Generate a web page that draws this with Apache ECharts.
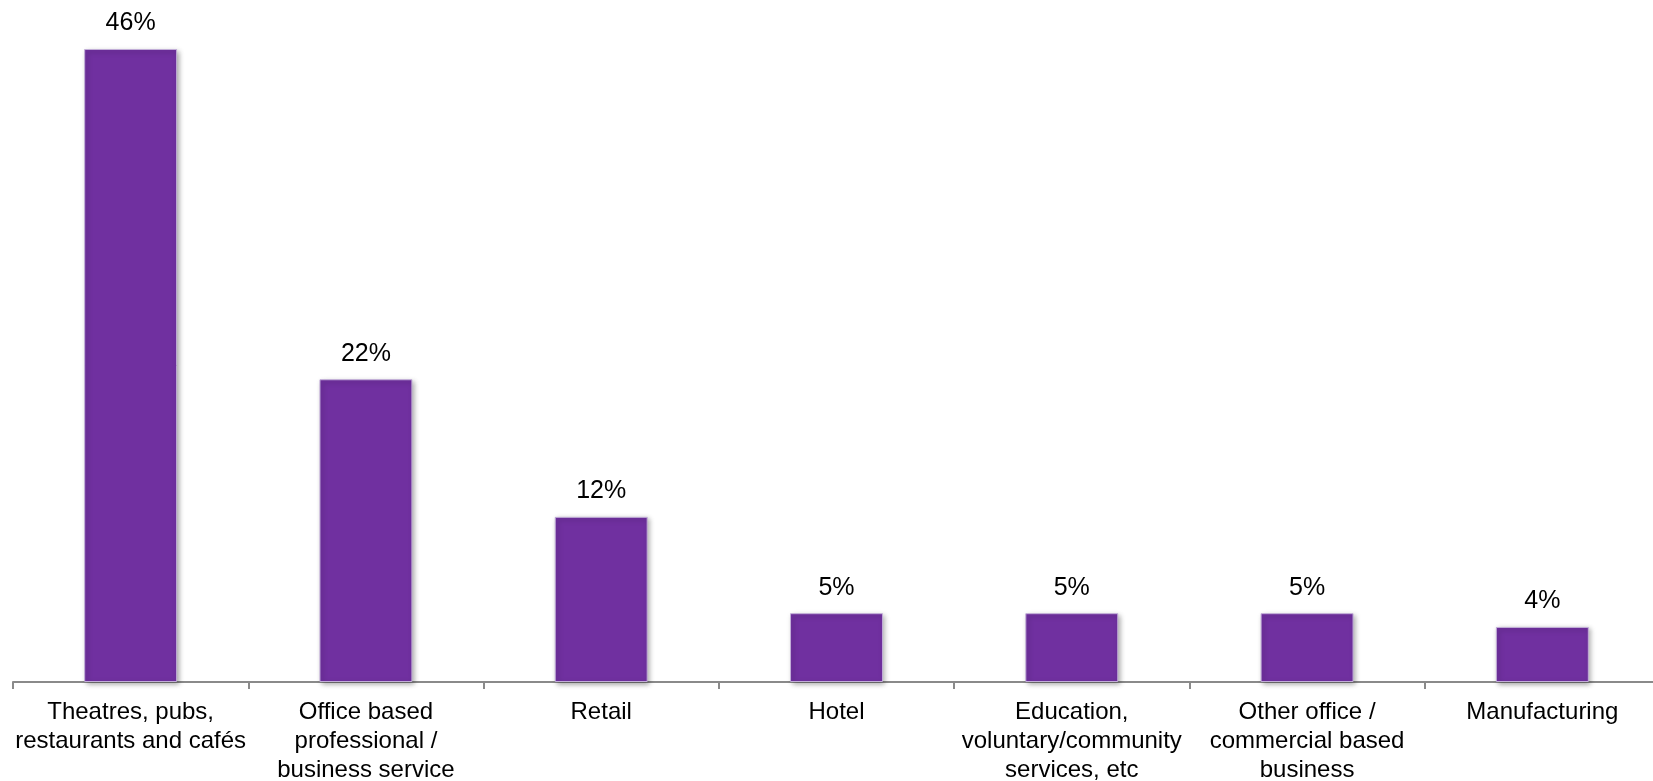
<!DOCTYPE html>
<html>
<head>
<meta charset="utf-8">
<script src="https://cdn.jsdelivr.net/npm/echarts@6/dist/echarts.min.js"></script>
<style>
  html, body { margin: 0; padding: 0; background: #ffffff; }
  #chart { width: 1653px; height: 781px; }
</style>
</head>
<body>
<div id="chart"></div>
<script>
// Business sectors (line breaks as printed under the axis)
const categories = [
  'Theatres, pubs,\nrestaurants and cafés',
  'Office based\nprofessional /\nbusiness service',
  'Retail',
  'Hotel',
  'Education,\nvoluntary/community\nservices, etc',
  'Other office /\ncommercial based\nbusiness',
  'Manufacturing'
];

// Share of respondents, percent
const shares = [46, 22, 12, 5, 5, 5, 4];

const chart = echarts.init(document.getElementById('chart'), null, { renderer: 'canvas' });

chart.setOption({
  animation: false,
  backgroundColor: '#ffffff',
  // the last category runs slightly past the right edge of the canvas
  grid: {
    left: 13, right: -7, top: 49, bottom: 99,
    containLabel: false,
    outerBoundsMode: 'none'
  },
  xAxis: {
    type: 'category',
    data: categories,
    axisLine: { lineStyle: { color: '#8a8a8a', width: 2 } },
    axisTick: { show: true, length: 7, lineStyle: { color: '#8a8a8a', width: 2 } },
    axisLabel: {
      interval: 0,
      margin: 16,
      color: '#000000',
      fontFamily: 'Liberation Sans, Arial, sans-serif',
      fontSize: 24,
      lineHeight: 29,
      align: 'center'
    }
  },
  yAxis: {
    type: 'value',
    min: 0,
    max: 46,
    show: false,
    splitLine: { show: false }
  },
  series: [{
    type: 'bar',
    data: shares,
    barWidth: '39.5%',
    itemStyle: {
      color: '#7030a0',
      borderColor: '#c2aed8',
      borderWidth: 1,
      shadowColor: 'rgba(0,0,0,0.35)',
      shadowBlur: 5,
      shadowOffsetX: 2,
      shadowOffsetY: 2
    },
    label: {
      show: true,
      position: 'top',
      distance: 13,
      formatter: '{c}%',
      color: '#000000',
      fontFamily: 'Liberation Sans, Arial, sans-serif',
      fontSize: 25
    }
  }]
});
</script>
</body>
</html>
